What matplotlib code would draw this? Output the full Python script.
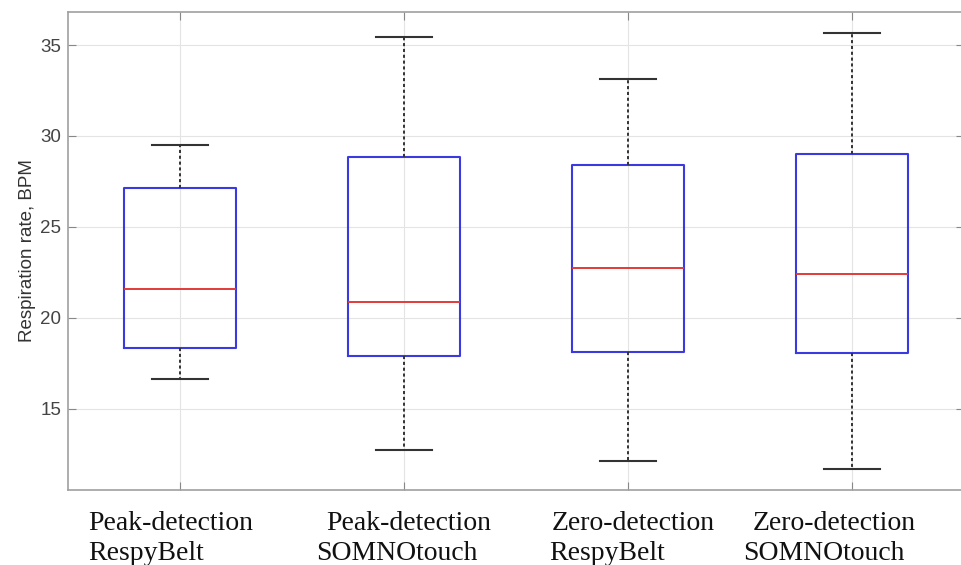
import matplotlib
matplotlib.use("Agg")
import matplotlib.pyplot as plt

# box statistics (respiration rate, BPM)
methods = ["Peak-detection", "Peak-detection", "Zero-detection", "Zero-detection"]
sensors = ["RespyBelt", "SOMNOtouch", "RespyBelt", "SOMNOtouch"]
whislo = [16.63, 12.74, 12.16, 11.71]
q1 = [18.35, 17.92, 18.11, 18.05]
med = [21.57, 20.89, 22.76, 22.40]
q3 = [27.16, 28.83, 28.41, 28.99]
whishi = [29.48, 35.46, 33.15, 35.65]
yticks = [15, 20, 25, 30, 35]

W, H = 962, 565
fig = plt.figure(figsize=(W / 100, H / 100), dpi=100)
ax = fig.add_axes([68.3 / W, 1 - 490.3 / H, (964.3 - 68.3) / W, (490.3 - 11.7) / H])

stats = []
for i in range(len(med)):
    stats.append(dict(whislo=whislo[i], q1=q1[i], med=med[i], q3=q3[i],
                      whishi=whishi[i], fliers=[]))

positions = list(range(1, len(med) + 1))
ax.bxp(stats, positions=positions, widths=0.5, showfliers=False,
       boxprops=dict(color="#3a3ae0", linewidth=1.5),
       medianprops=dict(color="#e23a3a", linewidth=1.4),
       whiskerprops=dict(color="#333333", linewidth=1.4, linestyle=(0, (1.6, 1.4))),
       capprops=dict(color="#333333", linewidth=1.5))

ax.set_xlim(0.5, 4.5)
ax.set_ylim(10.53, 36.83)
ax.set_xticks(positions)
ax.set_xticklabels([])
ax.set_yticks(yticks)
ax.set_yticklabels([str(v) for v in yticks], fontsize=13.5, color="#444444",
                   family="Liberation Sans")
ax.tick_params(direction="in", length=6, width=0.8, color="#888888",
               top=True, right=True, pad=5)
ax.grid(True, color="#e4e4e4", linewidth=0.8)
ax.set_axisbelow(True)
for s in ax.spines.values():
    s.set_color("#a0a0a0")
    s.set_linewidth(1.2)

ax.set_ylabel("Respiration rate, BPM", fontsize=13.5, color="#333333",
              family="Liberation Sans", labelpad=3)

# category labels below the axis, two lines each
line1_x = [88, 326, 552, 753]
line2_x = [88, 316, 549, 743]
for i in range(len(methods)):
    fig.text(line1_x[i] / W, 1 - 530 / H, methods[i], fontsize=20,
             family="Liberation Serif", color="#111111", va="baseline")
    fig.text(line2_x[i] / W, 1 - 560 / H, sensors[i], fontsize=20,
             family="Liberation Serif", color="#111111", va="baseline")

fig.savefig("out.png", dpi=100)
